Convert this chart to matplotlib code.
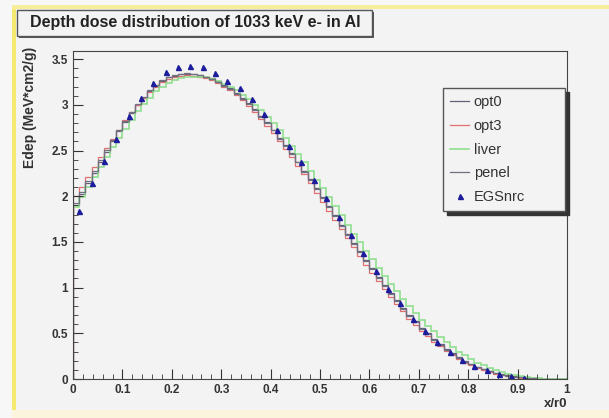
import numpy as np
import matplotlib.pyplot as plt
from matplotlib.patches import Rectangle
from matplotlib.ticker import MultipleLocator

plt.rcParams['font.family'] = ['Liberation Sans', 'DejaVu Sans']

# bordes de los bines (80 bines de 0.0125)
bordes = np.linspace(0, 1, 81)

opt0 = [1.90, 2.02, 2.14, 2.26, 2.38, 2.49, 2.60, 2.71, 2.81, 2.91, 3.00, 3.08, 3.15, 3.21,
        3.26, 3.30, 3.32, 3.34, 3.34, 3.34, 3.33, 3.31, 3.29, 3.26, 3.22, 3.18, 3.13, 3.08,
        3.02, 2.95, 2.88, 2.81, 2.73, 2.64, 2.56, 2.47, 2.38, 2.28, 2.19, 2.09, 1.99, 1.89,
        1.79, 1.69, 1.59, 1.49, 1.40, 1.30, 1.21, 1.12, 1.03, 0.94, 0.86, 0.78, 0.70, 0.63,
        0.56, 0.50, 0.44, 0.38, 0.33, 0.28, 0.24, 0.20, 0.165, 0.135, 0.11, 0.088, 0.068,
        0.052, 0.039, 0.028, 0.019, 0.012, 0.008, 0.005, 0.003, 0.002, 0.001, 0.0]
opt3 = [2.00, 2.10, 2.21, 2.32, 2.43, 2.53, 2.63, 2.73, 2.83, 2.92, 3.00, 3.08, 3.14, 3.20,
        3.25, 3.28, 3.31, 3.32, 3.33, 3.32, 3.31, 3.29, 3.27, 3.24, 3.20, 3.16, 3.11, 3.05,
        2.99, 2.92, 2.85, 2.77, 2.69, 2.60, 2.52, 2.43, 2.33, 2.24, 2.14, 2.04, 1.94, 1.84,
        1.74, 1.64, 1.54, 1.44, 1.35, 1.25, 1.16, 1.07, 0.98, 0.90, 0.82, 0.74, 0.66, 0.59,
        0.53, 0.47, 0.41, 0.36, 0.31, 0.26, 0.22, 0.18, 0.15, 0.12, 0.097, 0.077, 0.059,
        0.045, 0.033, 0.023, 0.015, 0.010, 0.006, 0.004, 0.002, 0.001, 0.0, 0.0]
liver = [1.88, 1.99, 2.10, 2.21, 2.32, 2.43, 2.54, 2.64, 2.74, 2.84, 2.93, 3.01, 3.08, 3.15,
         3.20, 3.24, 3.27, 3.29, 3.31, 3.31, 3.31, 3.30, 3.28, 3.26, 3.23, 3.20, 3.16, 3.11,
         3.06, 3.00, 2.94, 2.87, 2.80, 2.72, 2.64, 2.55, 2.46, 2.37, 2.28, 2.18, 2.09, 1.99,
         1.89, 1.79, 1.69, 1.59, 1.50, 1.40, 1.31, 1.22, 1.13, 1.04, 0.96, 0.88, 0.80, 0.72,
         0.65, 0.58, 0.52, 0.46, 0.40, 0.35, 0.30, 0.26, 0.22, 0.18, 0.15, 0.12, 0.095,
         0.074, 0.057, 0.043, 0.031, 0.021, 0.014, 0.009, 0.005, 0.003, 0.001, 0.0]
penel = [1.93, 2.05, 2.17, 2.28, 2.40, 2.51, 2.62, 2.72, 2.82, 2.92, 3.01, 3.09, 3.16, 3.22,
         3.27, 3.30, 3.33, 3.34, 3.35, 3.34, 3.33, 3.31, 3.28, 3.25, 3.21, 3.17, 3.12, 3.07,
         3.01, 2.94, 2.87, 2.80, 2.72, 2.63, 2.55, 2.46, 2.37, 2.27, 2.18, 2.08, 1.98, 1.88,
         1.78, 1.68, 1.58, 1.48, 1.39, 1.29, 1.20, 1.11, 1.02, 0.93, 0.85, 0.77, 0.69, 0.62,
         0.55, 0.49, 0.43, 0.37, 0.32, 0.27, 0.23, 0.19, 0.16, 0.13, 0.105, 0.083, 0.064,
         0.049, 0.036, 0.026, 0.018, 0.011, 0.007, 0.004, 0.002, 0.001, 0.0, 0.0]

# puntos EGSnrc
x_egs = [0.0125, 0.0375, 0.0625, 0.0875, 0.1125, 0.1375, 0.1625, 0.1875, 0.2125, 0.2375,
         0.2625, 0.2875, 0.3125, 0.3375, 0.3625, 0.3875, 0.4125, 0.4375, 0.4625, 0.4875,
         0.5125, 0.5375, 0.5625, 0.5875, 0.6125, 0.6375, 0.6625, 0.6875, 0.7125, 0.7375,
         0.7625, 0.7875, 0.8125, 0.8375, 0.8625, 0.8875, 0.9125]
y_egs = [1.84, 2.14, 2.39, 2.63, 2.88, 3.08, 3.24, 3.36, 3.42, 3.43, 3.41, 3.35, 3.26, 3.18,
         3.06, 2.90, 2.73, 2.55, 2.38, 2.18, 1.98, 1.77, 1.58, 1.38, 1.18, 0.99, 0.83, 0.66,
         0.52, 0.40, 0.30, 0.21, 0.14, 0.10, 0.06, 0.03, 0.01]

fig = plt.figure(figsize=(6.09, 4.18), dpi=100)
fig.patch.set_facecolor('#f7f7f7')

# marco de la diapositiva (borde amarillo)
fig.patches.append(Rectangle((12/609, 1-410/418), 597/609, 405/418, transform=fig.transFigure,
                             facecolor='#f3f3f3', edgecolor='none', zorder=-3))
fig.patches.append(Rectangle((12/609, 1-410/418), 4/609, 405/418, transform=fig.transFigure,
                             facecolor='#f4ea70', edgecolor='none', zorder=-2))
fig.patches.append(Rectangle((12/609, 1-9/418), 597/609, 4/418, transform=fig.transFigure,
                             facecolor='#f6ee9a', edgecolor='none', zorder=-2))
fig.patches.append(Rectangle((12/609, 0), 597/609, 8/418, transform=fig.transFigure,
                             facecolor='#faf5dc', edgecolor='none', zorder=-2))

ax = fig.add_axes([73/609, 1-379/418, 494/609, 328/418])
ax.set_zorder(5)
ax.set_facecolor('#f3f3f3')

ax.stairs(opt0, bordes, color='#606078', lw=0.9, label='opt0')
ax.stairs(opt3, bordes, color='#e07070', lw=0.9, label='opt3')
ax.stairs(liver, bordes, color='#88dd88', lw=1.1, label='liver')
ax.stairs(penel, bordes, color='#707080', lw=0.9, label='penel')
ax.plot(x_egs, y_egs, '^', color='#1c1c9c', ms=3.6, ls='none', label='EGSnrc')

ax.set_xlim(0, 1)
ax.set_ylim(0, 3.59)
ax.xaxis.set_major_locator(MultipleLocator(0.1))
ax.xaxis.set_minor_locator(MultipleLocator(0.02))
ax.yaxis.set_major_locator(MultipleLocator(0.5))
ax.yaxis.set_minor_locator(MultipleLocator(0.1))
ax.xaxis.set_major_formatter(lambda v, p: '%g' % round(v, 2))
ax.yaxis.set_major_formatter(lambda v, p: '%g' % round(v, 2))
ax.tick_params(which='both', direction='in', top=False, right=False, colors='#333333',
               labelsize=8.5)
ax.tick_params(which='major', length=7)
ax.tick_params(which='minor', length=3.5)
for t in ax.get_xticklabels() + ax.get_yticklabels():
    t.set_fontweight('bold')
for s in ax.spines.values():
    s.set_color('#444444')

fig.text(30/609, 1-47/418, 'Edep (MeV*cm2/g)', rotation=90, ha='center', va='top',
         fontsize=10, fontweight='bold', color='#333333')
fig.text(567/609, 1-404/418, 'x/r0', ha='right', va='center', fontsize=9.5,
         fontweight='bold', color='#333333')

# caja del titulo con sombra
fig.patches.append(Rectangle((19/609, 1-38/418), 355/609, 26/418, transform=fig.transFigure,
                             facecolor='#555555', edgecolor='none', zorder=1))
fig.patches.append(Rectangle((17/609, 1-36/418), 355/609, 26/418, transform=fig.transFigure,
                             facecolor='#f3f3f3', edgecolor='#555555', lw=1, zorder=2))
fig.text(195/609, 1-23/418, 'Depth dose distribution of 1033 keV e- in Al', ha='center',
         va='center', fontsize=11.5, fontweight='bold', color='#222222', zorder=3)

leg = ax.legend(loc='upper left', bbox_to_anchor=(0.749, 0.506, 0.247, 0.381), mode='expand',
                fancybox=False, shadow={'ox': 3, 'oy': -3, 'color': '#333333', 'alpha': 1},
                facecolor='#f3f3f3', edgecolor='#555555', framealpha=1, fontsize=10.5,
                handlelength=1.3, handletextpad=0.3, labelspacing=0.66, borderaxespad=0,
                borderpad=0.5)
leg.get_frame().set_linewidth(1)
for t in leg.get_texts():
    t.set_color('#333333')

fig.savefig('out.png', dpi=100, facecolor=fig.get_facecolor())
